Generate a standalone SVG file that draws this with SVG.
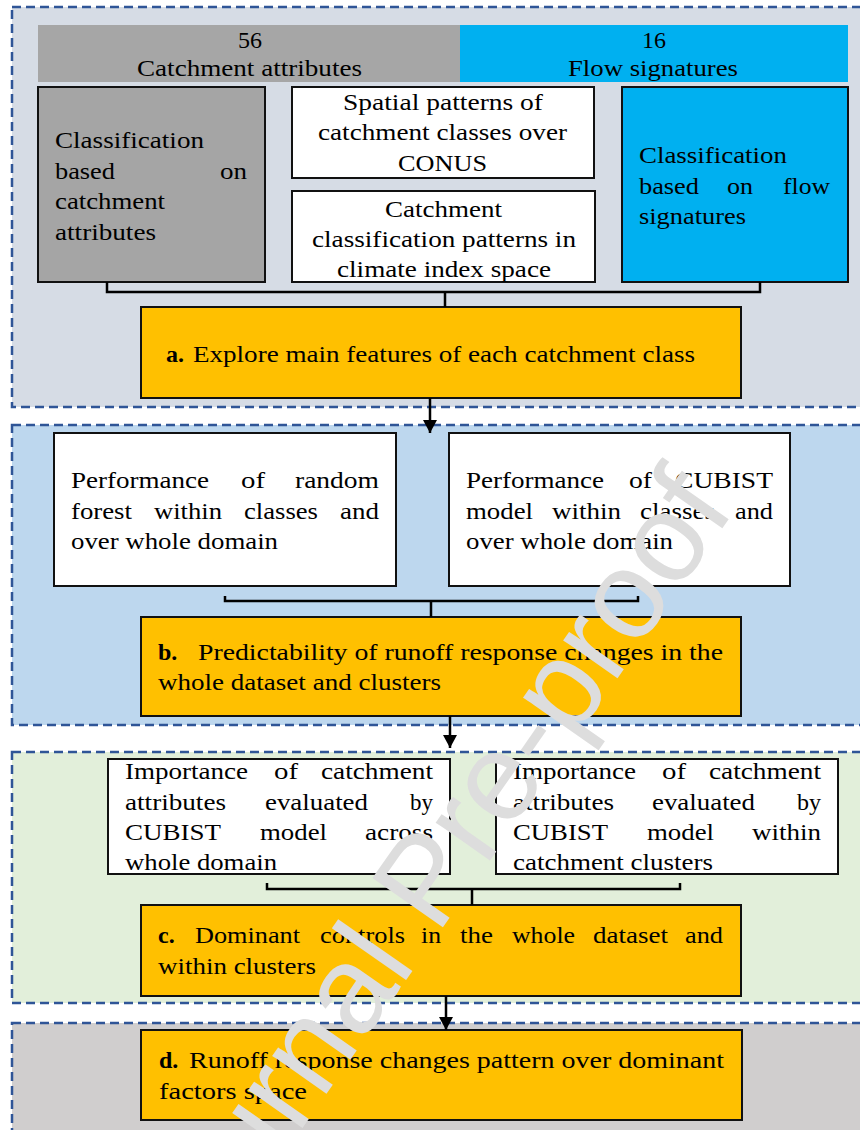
<svg xmlns="http://www.w3.org/2000/svg" width="860" height="1130" viewBox="0 0 860 1130">
<style>
.sec{stroke:#2f5597;stroke-width:2.5;stroke-dasharray:9 5}
.box{stroke:#111;stroke-width:2}
.t{font-size:24px;fill:#000}
.b{font-weight:bold}
.con{fill:none;stroke:#000;stroke-width:2.5}
.wm{font-size:125px;fill:#dddddd}
</style>
<defs>
<marker id="ah" markerUnits="userSpaceOnUse" markerWidth="14" markerHeight="14" refX="13" refY="7" orient="auto">
<path d="M0,0 L13,7 L0,14 Z" fill="#000"/>
</marker>
</defs>
<rect width="860" height="1130" fill="#fff"/>

<g font-family="Liberation Serif, Times New Roman, serif">
<g id="section1">
<rect class="sec" x="12" y="7" width="880" height="400" fill="#d6dce5"/>
<rect x="38" y="25" width="422" height="57" fill="#a6a6a6"/>
<rect x="460" y="25" width="388" height="57" fill="#00b0f0"/>
<text class="t" x="250" y="48" text-anchor="middle">56</text>
<text class="t" x="137" y="76" textLength="225" lengthAdjust="spacingAndGlyphs">Catchment attributes</text>
<text class="t" x="654" y="48" text-anchor="middle">16</text>
<text class="t" x="568" y="76" textLength="170" lengthAdjust="spacingAndGlyphs">Flow signatures</text>
</g>

<g id="section2">
<rect class="sec" x="12" y="425" width="880" height="300" fill="#bdd7ee"/>
</g>
<g id="section3">
<rect class="sec" x="12" y="752" width="880" height="251" fill="#e2efda"/>
</g>
<g id="section4">
<rect class="sec" x="12" y="1023" width="880" height="150" fill="#d0cece"/>
</g>

<g id="class-attr">
<rect class="box" x="38" y="87" width="227" height="195" fill="#a5a5a5"/>
<text class="t" x="55" y="148" textLength="149" lengthAdjust="spacingAndGlyphs">Classification</text>
<text class="t" x="55" y="179" textLength="60" lengthAdjust="spacingAndGlyphs">based</text>
<text class="t" x="220" y="179" textLength="27" lengthAdjust="spacingAndGlyphs">on</text>
<text class="t" x="55" y="209" textLength="110" lengthAdjust="spacingAndGlyphs">catchment</text>
<text class="t" x="55" y="240" textLength="101" lengthAdjust="spacingAndGlyphs">attributes</text>
</g>

<g id="spatial">
<rect class="box" x="292" y="87" width="302" height="91" fill="#fff"/>
<text class="t" x="343" y="110" textLength="200" lengthAdjust="spacingAndGlyphs">Spatial patterns of</text>
<text class="t" x="318" y="140" textLength="249" lengthAdjust="spacingAndGlyphs">catchment classes over</text>
<text class="t" x="398" y="171" textLength="89" lengthAdjust="spacingAndGlyphs">CONUS</text>
</g>

<g id="climate">
<rect class="box" x="292" y="191" width="303" height="91" fill="#fff"/>
<text class="t" x="385" y="217" textLength="117" lengthAdjust="spacingAndGlyphs">Catchment</text>
<text class="t" x="312" y="247" textLength="264" lengthAdjust="spacingAndGlyphs">classification patterns in</text>
<text class="t" x="337" y="277" textLength="214" lengthAdjust="spacingAndGlyphs">climate index space</text>
</g>

<g id="class-flow">
<rect class="box" x="622" y="87" width="226" height="195" fill="#00b0f0"/>
<text class="t" x="639" y="163" textLength="148" lengthAdjust="spacingAndGlyphs">Classification</text>
<text class="t" x="639" y="194" textLength="60" lengthAdjust="spacingAndGlyphs">based</text>
<text class="t" x="727" y="194" textLength="26" lengthAdjust="spacingAndGlyphs">on</text>
<text class="t" x="783" y="194" textLength="47" lengthAdjust="spacingAndGlyphs">flow</text>
<text class="t" x="639" y="224" textLength="107" lengthAdjust="spacingAndGlyphs">signatures</text>
</g>

<g id="box-a">
<rect class="box" x="141" y="307" width="600" height="91" fill="#ffc000"/>
<text class="t b" x="166" y="362">a.</text>
<text class="t" x="193" y="362" textLength="502" lengthAdjust="spacingAndGlyphs">Explore main features of each catchment class</text>
</g>

<g id="perf-rf">
<rect class="box" x="54" y="433" width="342" height="153" fill="#fff"/>
<text class="t" x="71" y="488" textLength="138" lengthAdjust="spacingAndGlyphs">Performance</text>
<text class="t" x="241" y="488" textLength="24" lengthAdjust="spacingAndGlyphs">of</text>
<text class="t" x="295" y="488" textLength="84" lengthAdjust="spacingAndGlyphs">random</text>
<text class="t" x="71" y="519" textLength="61" lengthAdjust="spacingAndGlyphs">forest</text>
<text class="t" x="154" y="519" textLength="68" lengthAdjust="spacingAndGlyphs">within</text>
<text class="t" x="244" y="519" textLength="74" lengthAdjust="spacingAndGlyphs">classes</text>
<text class="t" x="340" y="519" textLength="39" lengthAdjust="spacingAndGlyphs">and</text>
<text class="t" x="71" y="549" textLength="207" lengthAdjust="spacingAndGlyphs">over whole domain</text>
</g>

<g id="perf-cubist">
<rect class="box" x="449" y="433" width="341" height="153" fill="#fff"/>
<text class="t" x="466" y="488" textLength="138" lengthAdjust="spacingAndGlyphs">Performance</text>
<text class="t" x="629" y="488" textLength="23" lengthAdjust="spacingAndGlyphs">of</text>
<text class="t" x="675" y="488" textLength="98" lengthAdjust="spacingAndGlyphs">CUBIST</text>
<text class="t" x="466" y="519" textLength="67" lengthAdjust="spacingAndGlyphs">model</text>
<text class="t" x="552" y="519" textLength="69" lengthAdjust="spacingAndGlyphs">within</text>
<text class="t" x="640" y="519" textLength="75" lengthAdjust="spacingAndGlyphs">classes</text>
<text class="t" x="735" y="519" textLength="38" lengthAdjust="spacingAndGlyphs">and</text>
<text class="t" x="466" y="549" textLength="207" lengthAdjust="spacingAndGlyphs">over whole domain</text>
</g>

<g id="box-b">
<rect class="box" x="141" y="617" width="600" height="99" fill="#ffc000"/>
<text class="t b" x="158" y="660">b.</text>
<text class="t" x="198" y="660" textLength="525" lengthAdjust="spacingAndGlyphs">Predictability of runoff response changes in the</text>
<text class="t" x="158" y="690" textLength="283" lengthAdjust="spacingAndGlyphs">whole dataset and clusters</text>
</g>

<g id="imp-whole">
<rect class="box" x="108" y="759" width="342" height="115" fill="#fff"/>
<text class="t" x="125" y="779" textLength="123" lengthAdjust="spacingAndGlyphs">Importance</text>
<text class="t" x="274" y="779" textLength="24" lengthAdjust="spacingAndGlyphs">of</text>
<text class="t" x="321" y="779" textLength="112" lengthAdjust="spacingAndGlyphs">catchment</text>
<text class="t" x="125" y="810" textLength="101" lengthAdjust="spacingAndGlyphs">attributes</text>
<text class="t" x="265" y="810" textLength="103" lengthAdjust="spacingAndGlyphs">evaluated</text>
<text class="t" x="410" y="810" textLength="23" lengthAdjust="spacingAndGlyphs">by</text>
<text class="t" x="125" y="840" textLength="96" lengthAdjust="spacingAndGlyphs">CUBIST</text>
<text class="t" x="260" y="840" textLength="67" lengthAdjust="spacingAndGlyphs">model</text>
<text class="t" x="365" y="840" textLength="68" lengthAdjust="spacingAndGlyphs">across</text>
<text class="t" x="125" y="870" textLength="152" lengthAdjust="spacingAndGlyphs">whole domain</text>
</g>

<g id="imp-clusters">
<rect class="box" x="496" y="759" width="342" height="115" fill="#fff"/>
<text class="t" x="513" y="779" textLength="123" lengthAdjust="spacingAndGlyphs">Importance</text>
<text class="t" x="662" y="779" textLength="24" lengthAdjust="spacingAndGlyphs">of</text>
<text class="t" x="709" y="779" textLength="112" lengthAdjust="spacingAndGlyphs">catchment</text>
<text class="t" x="513" y="810" textLength="101" lengthAdjust="spacingAndGlyphs">attributes</text>
<text class="t" x="652" y="810" textLength="103" lengthAdjust="spacingAndGlyphs">evaluated</text>
<text class="t" x="797" y="810" textLength="24" lengthAdjust="spacingAndGlyphs">by</text>
<text class="t" x="513" y="840" textLength="95" lengthAdjust="spacingAndGlyphs">CUBIST</text>
<text class="t" x="647" y="840" textLength="67" lengthAdjust="spacingAndGlyphs">model</text>
<text class="t" x="752" y="840" textLength="69" lengthAdjust="spacingAndGlyphs">within</text>
<text class="t" x="513" y="870" textLength="200" lengthAdjust="spacingAndGlyphs">catchment clusters</text>
</g>

<g id="box-c">
<rect class="box" x="141" y="905" width="600" height="91" fill="#ffc000"/>
<text class="t b" x="158" y="943">c.</text>
<text class="t" x="195" y="943" textLength="105" lengthAdjust="spacingAndGlyphs">Dominant</text>
<text class="t" x="320" y="943" textLength="85" lengthAdjust="spacingAndGlyphs">controls</text>
<text class="t" x="421" y="943" textLength="20" lengthAdjust="spacingAndGlyphs">in</text>
<text class="t" x="460" y="943" textLength="33" lengthAdjust="spacingAndGlyphs">the</text>
<text class="t" x="512" y="943" textLength="63" lengthAdjust="spacingAndGlyphs">whole</text>
<text class="t" x="593" y="943" textLength="75" lengthAdjust="spacingAndGlyphs">dataset</text>
<text class="t" x="685" y="943" textLength="38" lengthAdjust="spacingAndGlyphs">and</text>
<text class="t" x="158" y="974" textLength="158" lengthAdjust="spacingAndGlyphs">within clusters</text>
</g>

<g id="box-d">
<rect class="box" x="141" y="1030" width="601" height="90" fill="#ffc000"/>
<text class="t b" x="159" y="1068">d.</text>
<text class="t" x="189" y="1068" textLength="535" lengthAdjust="spacingAndGlyphs">Runoff response changes pattern over dominant</text>
<text class="t" x="159" y="1099" textLength="148" lengthAdjust="spacingAndGlyphs">factors space</text>
</g>
</g>

<g id="connectors">
<path class="con" d="M107,282 V292 H760 V282 M445,292 V307"/>
<path class="con" d="M225,596 V601 H638 V596 M431,601 V617"/>
<path class="con" d="M267,883 V889 H680 V883 M472,889 V905"/>
<line class="con" x1="430" y1="398" x2="430" y2="433" marker-end="url(#ah)"/>
<line class="con" x1="450" y1="716" x2="450" y2="748" marker-end="url(#ah)"/>
<line class="con" x1="446" y1="996" x2="446" y2="1030" marker-end="url(#ah)"/>
</g>

<text class="wm" font-family="Liberation Sans, Arial, sans-serif" x="182" y="1300" transform="rotate(-55 182 1300)">Journal Pre-proof</text>
</svg>
